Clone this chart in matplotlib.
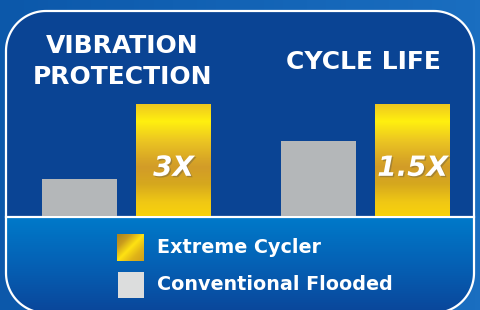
import numpy as np
import matplotlib.pyplot as plt
from matplotlib.patches import Polygon, Rectangle
from matplotlib.colors import LinearSegmentedColormap
import matplotlib.patheffects as pe

groups = ["VIBRATION\nPROTECTION", "CYCLE LIFE"]
conventional = [1.0, 2.0]
extreme = [3.0, 3.0]
bar_labels = ["3X", "1.5X"]
legend_labels = ["Extreme Cycler", "Conventional Flooded"]

grey = "#b4b7b9"
navy = "#0a4494"
gold_cmap = LinearSegmentedColormap.from_list(
    "gold", [(0, "#eec620"), (0.16, "#fff00f"), (0.33, "#ecc622"), (0.5, "#d8a626"),
             (0.57, "#d29c28"), (0.72, "#d6a81e"), (0.88, "#f0c814"), (1, "#f8d20c")])


def rounded_box(x0, y0, x1, y1, r, n=30):
    # corners in pixel coords (y grows downwards)
    pts = []
    for cx, cy, a0 in [(x1 - r, y0 + r, -90), (x1 - r, y1 - r, 0),
                       (x0 + r, y1 - r, 90), (x0 + r, y0 + r, 180)]:
        t = np.radians(np.linspace(a0, a0 + 90, n))
        pts += list(zip(cx + r * np.cos(t), cy + r * np.sin(t)))
    return np.array(pts)


plt.rcParams['font.family'] = ['DejaVu Sans']
fig = plt.figure(figsize=(4.8, 3.1), dpi=100)

# background axes in pixel units
bg = fig.add_axes([0, 0, 1, 1])
bg.axis("off")
bg.imshow(np.linspace(0, 1, 100).reshape(1, -1),
          cmap=LinearSegmentedColormap.from_list("o", ["#0c58aa", "#1a6ec0"]),
          extent=(0, 480, 310, 0), aspect="auto")

box = rounded_box(6, 11, 474, 313, 40)
panel = Polygon(box, closed=True, facecolor=navy, edgecolor="none", zorder=2)
bg.add_patch(panel)
low = bg.imshow(np.linspace(0, 1, 100).reshape(-1, 1),
                cmap=LinearSegmentedColormap.from_list("l", ["#0079c9", "#0560b4", "#0a469a"]),
                extent=(6, 474, 313, 218), aspect="auto", zorder=3)
low.set_clip_path(panel)
bg.plot([6, 474], [217, 217], color="white", lw=1.6, zorder=4)
bg.add_patch(Polygon(box, closed=True, facecolor="none", edgecolor="white", lw=1.6, zorder=5))

# group titles
line1, line2 = groups[0].split("\n")
bg.text(122.5, 46, line1, color="white", fontsize=18, fontweight="bold",
        ha="center", va="center", zorder=6)
bg.text(122.5, 76.5, line2, color="white", fontsize=18, fontweight="bold",
        ha="center", va="center", zorder=6)
bg.text(363.5, 62, groups[1], color="white", fontsize=18, fontweight="bold",
        ha="center", va="center", zorder=6)

# legend
sw = np.linspace(0, 1, 60)
diag = np.add.outer(sw, sw) / 2
bg.imshow(diag, cmap=LinearSegmentedColormap.from_list(
    "s", ["#a8821e", "#c99c1e", "#ffe212", "#e0b418", "#d0a01a"]),
    extent=(117, 144, 261, 234), aspect="auto", zorder=6)
bg.add_patch(Rectangle((118, 272), 26, 26, facecolor="#dcdddd", zorder=6))
bg.text(157, 247.5, legend_labels[0], color="white", fontsize=13.8, fontweight="bold",
        va="center", ha="left", zorder=6)
bg.text(157, 285, legend_labels[1], color="white", fontsize=13.8, fontweight="bold",
        va="center", ha="left", zorder=6)
bg.set_xlim(0, 480)
bg.set_ylim(310, 0)

# bars axes
ax = fig.add_axes([0, 94 / 310, 1, 119.5 / 310])
ax.axis("off")
ax.patch.set_alpha(0)
x = np.arange(len(groups))
off = 47 / 239
w = 75 / 239
ax.bar(x - off, conventional, width=w, color=grey, zorder=2)
gbars = ax.bar(x + off, extreme, width=w, color="#f2c81e", zorder=2)
for b, lab in zip(gbars, bar_labels):
    im = ax.imshow(np.linspace(0, 1, 200).reshape(-1, 1), cmap=gold_cmap,
                   extent=(b.get_x(), b.get_x() + b.get_width(), 0, b.get_height()),
                   aspect="auto", zorder=3)
    im.set_clip_path(b)
    ax.text(b.get_x() + b.get_width() / 2, 1.29, lab, color="white", fontsize=20,
            fontweight="heavy", fontstyle="italic", ha="center", va="center", zorder=4,
            path_effects=[pe.withSimplePatchShadow(offset=(1, -1), alpha=0.35)])
ax.set_xlim(-126.5 / 239, (480 - 126.5) / 239)
ax.set_ylim(0, 3.2)

fig.savefig("out.png", dpi=100)
